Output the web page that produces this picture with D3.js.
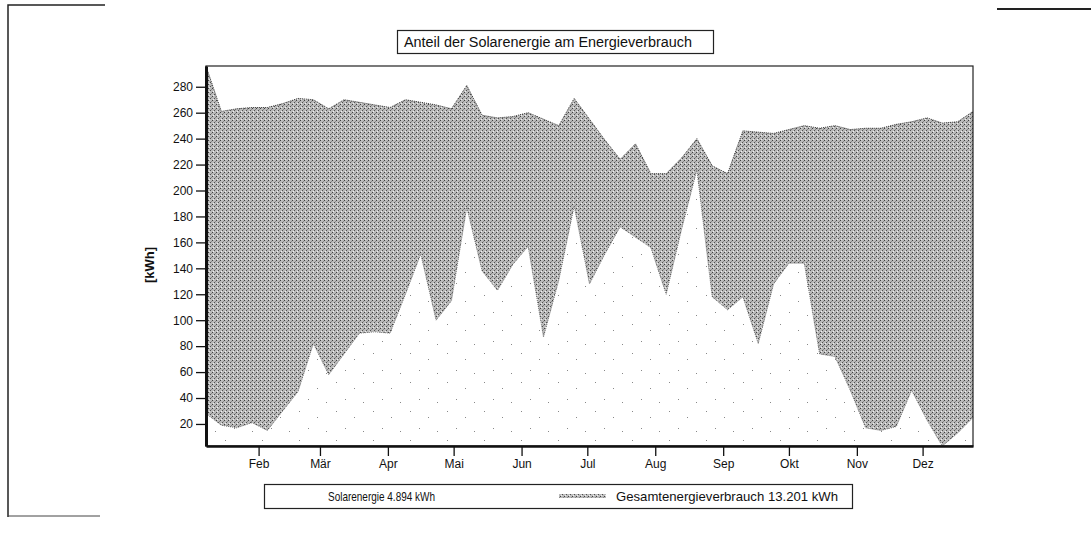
<!DOCTYPE html>
<html>
<head>
<meta charset="utf-8">
<script src="https://cdn.jsdelivr.net/npm/d3@7"></script>
<style>
  body { margin: 0; background: #fff; }
  text { font-family: "Liberation Sans", Arial, sans-serif; fill: #111; }
</style>
</head>
<body>
<div id="chart"></div>
<script>
// weekly values
var solar = [28, 19, 17, 21, 15, 30, 45, 82, 58, 74, 90, 91, 90, 120, 151, 100, 115, 187, 138, 123,
    143, 157, 87, 131, 188, 128, 151, 172, 164, 156, 120, 170, 216, 118, 108, 118, 82, 128,
    144, 144, 74, 72, 46, 17, 15, 18, 46, 23, 3, 13, 25, 15];
var gesamt = [296, 261, 263, 264, 264, 267, 271, 270, 263, 270, 268, 266, 264, 270, 268, 266, 263, 281, 258, 256,
    257, 260, 255, 250, 271, 255, 239, 224, 236, 213, 213, 225, 240, 219, 213, 246, 245, 244,
    247, 250, 248, 250, 247, 248, 248, 251, 253, 256, 252, 253, 261, 258];
var monthLabels = ["Feb", "Mär", "Apr", "Mai", "Jun", "Jul", "Aug", "Sep", "Okt", "Nov", "Dez"];
var yTicks = [20, 40, 60, 80, 100, 120, 140, 160, 180, 200, 220, 240, 260, 280];
var title = "Anteil der Solarenergie am Energieverbrauch";
var legendSolar = "Solarenergie 4.894 kWh";
var legendGesamt = "Gesamtenergieverbrauch 13.201 kWh";

var W = 1091, H = 533;
var plot = { left: 206, right: 973, top: 66, bottom: 446 };

var svg = d3.select("#chart").append("svg")
    .attr("width", W)
    .attr("height", H);

var defs = svg.append("defs");

// grey stipple for the total consumption
var pg = defs.append("pattern")
    .attr("id", "grau")
    .attr("patternUnits", "userSpaceOnUse")
    .attr("width", 4).attr("height", 4);
pg.append("rect").attr("width", 4).attr("height", 4).attr("fill", "#bababa");
pg.append("rect").attr("x", 0).attr("y", 0).attr("width", 1).attr("height", 1).attr("fill", "#404040");
pg.append("rect").attr("x", 2).attr("y", 2).attr("width", 1).attr("height", 1).attr("fill", "#505050");
pg.append("rect").attr("x", 1).attr("y", 3).attr("width", 1).attr("height", 1).attr("fill", "#efefef");
pg.append("rect").attr("x", 3).attr("y", 1).attr("width", 1).attr("height", 1).attr("fill", "#8a8a8a");

// sparse dots for solar
var ps = defs.append("pattern")
    .attr("id", "punkte")
    .attr("patternUnits", "userSpaceOnUse")
    .attr("width", 37).attr("height", 29);
ps.append("rect").attr("width", 37).attr("height", 29).attr("fill", "#fff");
[[3, 5], [21, 11], [12, 22], [30, 25]].forEach(function(p) {
    ps.append("rect").attr("x", p[0]).attr("y", p[1]).attr("width", 1).attr("height", 1).attr("fill", "#888");
});

var start = new Date(2010, 0, 8);
var dates = d3.timeDay.range(start, new Date(2010, 11, 31), 7);
var data = dates.map(function(d, i) {
    return { date: d, solar: solar[i], gesamt: gesamt[i] };
});

var x = d3.scaleTime()
    .domain([dates[0], dates[dates.length - 1]])
    .range([plot.left, plot.right]);

var y = d3.scaleLinear()
    .domain([3, 296])
    .range([plot.bottom, plot.top]);

// corner marks of the scanned page
svg.append("path").attr("d", "M8,517 L8,5 L105,5").attr("fill", "none").attr("stroke", "#222").attr("stroke-width", 1.5);
svg.append("path").attr("d", "M8,516 L100,516").attr("stroke", "#444").attr("stroke-width", 1);
svg.append("path").attr("d", "M997,9 L1091,9").attr("stroke", "#222").attr("stroke-width", 2);

// title
svg.append("rect")
    .attr("x", 397.5).attr("y", 30.5)
    .attr("width", 316).attr("height", 23)
    .attr("fill", "#fff").attr("stroke", "#222").attr("stroke-width", 1.2);
svg.append("text")
    .attr("x", 404).attr("y", 47)
    .attr("textLength", 288).attr("lengthAdjust", "spacingAndGlyphs")
    .style("font-size", "14px")
    .text(title);

// areas
var areaG = d3.area()
    .x(function(d) { return x(d.date); })
    .y0(plot.bottom)
    .y1(function(d) { return y(d.gesamt); });

var areaS = d3.area()
    .x(function(d) { return x(d.date); })
    .y0(plot.bottom)
    .y1(function(d) { return y(d.solar); });

svg.append("path")
    .datum(data)
    .attr("d", areaG)
    .attr("fill", "url(#grau)");

svg.append("path")
    .datum(data)
    .attr("d", d3.line().x(function(d) { return x(d.date); }).y(function(d) { return y(d.gesamt); }))
    .attr("fill", "none")
    .attr("stroke", "#333")
    .attr("stroke-width", 1)
    .attr("stroke-dasharray", "1,1");

svg.append("path")
    .datum(data)
    .attr("d", areaS)
    .attr("fill", "url(#punkte)");

svg.append("path")
    .datum(data)
    .attr("d", d3.line().x(function(d) { return x(d.date); }).y(function(d) { return y(d.solar); }))
    .attr("fill", "none")
    .attr("stroke", "#555")
    .attr("stroke-width", 0.8)
    .attr("stroke-dasharray", "1,1");

// frame
svg.append("rect")
    .attr("x", plot.left).attr("y", plot.top)
    .attr("width", plot.right - plot.left).attr("height", plot.bottom - plot.top)
    .attr("fill", "none").attr("stroke", "#222").attr("stroke-width", 1.2);

// y axis
var yAxis = svg.append("g")
    .attr("transform", "translate(" + plot.left + ",0)")
    .call(d3.axisLeft(y).tickValues(yTicks).tickSize(10).tickSizeOuter(0).tickPadding(3));
yAxis.select(".domain").attr("stroke", "#111").attr("stroke-width", 3);
yAxis.selectAll(".tick line").attr("stroke", "#111").attr("stroke-width", 1.3);
yAxis.selectAll("text").style("font-size", "12px").attr("fill", "#111");

// x axis
var months = d3.timeMonth.range(new Date(2010, 1, 1), new Date(2010, 11, 2));
var xAxis = svg.append("g")
    .attr("transform", "translate(0," + plot.bottom + ")")
    .call(d3.axisBottom(x).tickValues(months)
        .tickFormat(function(d, i) { return monthLabels[i]; })
        .tickSize(10).tickSizeOuter(0).tickPadding(3));
xAxis.select(".domain").attr("stroke", "#111").attr("stroke-width", 2.5);
xAxis.selectAll(".tick line").attr("stroke", "#111").attr("stroke-width", 1.3);
xAxis.selectAll("text").style("font-size", "12px").attr("fill", "#111");

svg.append("text")
    .attr("transform", "translate(154,265) rotate(-90)")
    .attr("text-anchor", "middle")
    .style("font-size", "13px")
    .style("font-weight", "bold")
    .text("[kWh]");

// legend
svg.append("rect")
    .attr("x", 264.5).attr("y", 484.5)
    .attr("width", 588).attr("height", 24)
    .attr("fill", "#fff").attr("stroke", "#222").attr("stroke-width", 1.2);
svg.append("text")
    .attr("x", 328).attr("y", 501)
    .attr("textLength", 107).attr("lengthAdjust", "spacingAndGlyphs")
    .style("font-size", "13px")
    .text(legendSolar);
svg.append("rect")
    .attr("x", 559).attr("y", 494)
    .attr("width", 47).attr("height", 4)
    .attr("fill", "url(#grau)");
svg.append("text")
    .attr("x", 616).attr("y", 501)
    .attr("textLength", 222).attr("lengthAdjust", "spacingAndGlyphs")
    .style("font-size", "13px")
    .text(legendGesamt);
</script>
</body>
</html>
